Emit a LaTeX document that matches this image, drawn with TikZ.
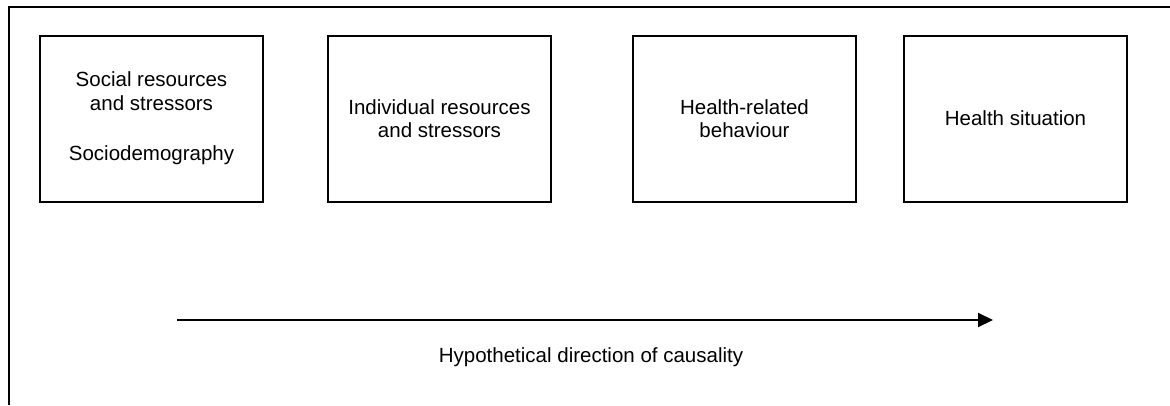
\documentclass[tikz,border=0pt]{standalone}
\usepackage{fontspec}
\setmainfont{Liberation Sans}
\usetikzlibrary{arrows.meta}

\begin{document}
\begin{tikzpicture}[
            x=1pt, y=-1pt,
            stagebox/.style={draw, line width=2pt, minimum width=223pt, minimum height=166pt,
                             align=center, inner sep=0pt, font=\fontsize{20.5}{23.5}\selectfont},
            frameline/.style={line width=2pt},
            causalarrow/.style={line width=2pt, -{Triangle[length=15pt, width=14pt]}}
                           ]
            % 1. Fix the page size and draw the open outer frame
            \useasboundingbox (0,0) rectangle (1170,405);
            \draw[frameline] (9,405) -- (9,7) -- (1170,7);

            % 2. The four boxes
            \node[stagebox] (social)     at (151.5,118.5) {Social resources\\and stressors\\[27pt]Sociodemography};
            \node[stagebox] (individual) at (439.5,118.5) {Individual resources\\and stressors};
            \node[stagebox] (behaviour)  at (744.5,118.5) {Health-related\\behaviour};
            \node[stagebox] (health)     at (1015.5,118.5) {Health situation};

            % 3. The arrow along the bottom with its label
            \coordinate (arrowstart) at (177,320);
            \coordinate (arrowend) at (993,320);
            \draw[causalarrow] (arrowstart) -- (arrowend);
            \node[font=\fontsize{20.5}{23.5}\selectfont] (causality) at (591,357) {Hypothetical direction of causality};

        \end{tikzpicture}
\end{document}
